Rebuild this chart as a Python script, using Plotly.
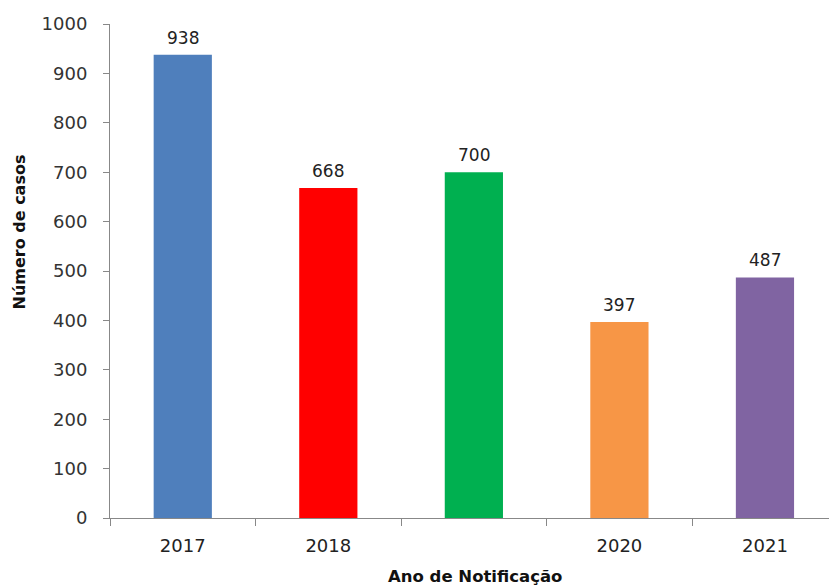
import plotly.graph_objects as go

# Casos notificados por ano
anos = ["2017", "2018", "2019", "2020", "2021"]
rotulos_x = ["2017", "2018", "", "2020", "2021"]
casos = [938, 668, 700, 397, 487]
cores = ["#4F7FBC", "#FF0000", "#00B050", "#F79646", "#8064A2"]
ticks_y = [0, 100, 200, 300, 400, 500, 600, 700, 800, 900, 1000]

fonte = "DejaVu Sans"

fig = go.Figure(
    go.Bar(
        x=anos,
        y=casos,
        marker=dict(color=cores, line=dict(width=0)),
        width=0.4,
        showlegend=False,
    )
)

# Valores acima de cada barra (posição pelo índice da categoria)
for i, valor in enumerate(casos):
    fig.add_annotation(
        x=i, y=valor, xref="x", yref="y", text=str(valor), showarrow=False,
        yanchor="bottom", yshift=5,
        font=dict(family=fonte, size=17, color="#222222"),
    )

# Título do eixo vertical
fig.add_annotation(
    x=-110 / 719, y=(518 - 232) / 494, xref="paper", yref="paper",
    xanchor="left", yanchor="middle", xshift=7,
    text="<b>Número de casos</b>", textangle=-90, showarrow=False,
    font=dict(family=fonte, size=16, color="#111111"),
)

# Título do eixo horizontal
fig.add_annotation(
    x=(475 - 110) / 719, y=(518 - 576) / 494, xref="paper", yref="paper",
    xanchor="center", yanchor="middle",
    text="<b>Ano de Notificação</b>", showarrow=False,
    font=dict(family=fonte, size=16.5, color="#111111"),
)

fig.update_layout(
    width=829,
    height=587,
    margin=dict(l=110, r=0, t=24, b=69),
    paper_bgcolor="white",
    plot_bgcolor="white",
    bargap=0.6,
    xaxis=dict(
        type="category",
        range=[-0.5, 4.44],
        tickmode="array",
        tickvals=anos,
        ticktext=rotulos_x,
        tickson="boundaries",
        ticks="outside",
        ticklen=7,
        tickcolor="#888888",
        showline=True,
        linecolor="#888888",
        linewidth=1,
        showgrid=False,
        automargin=False,
        ticklabelstandoff=11,
        tickfont=dict(family=fonte, size=18, color="#222222"),
    ),
    yaxis=dict(
        range=[0, 1000],
        tickmode="array",
        tickvals=ticks_y,
        ticks="outside",
        ticklen=6,
        tickcolor="#888888",
        showline=True,
        linecolor="#888888",
        linewidth=1,
        showgrid=False,
        zeroline=False,
        automargin=False,
        ticklabelstandoff=12,
        tickfont=dict(family=fonte, size=18, color="#333333"),
    ),
)

fig.write_html("out.html")
